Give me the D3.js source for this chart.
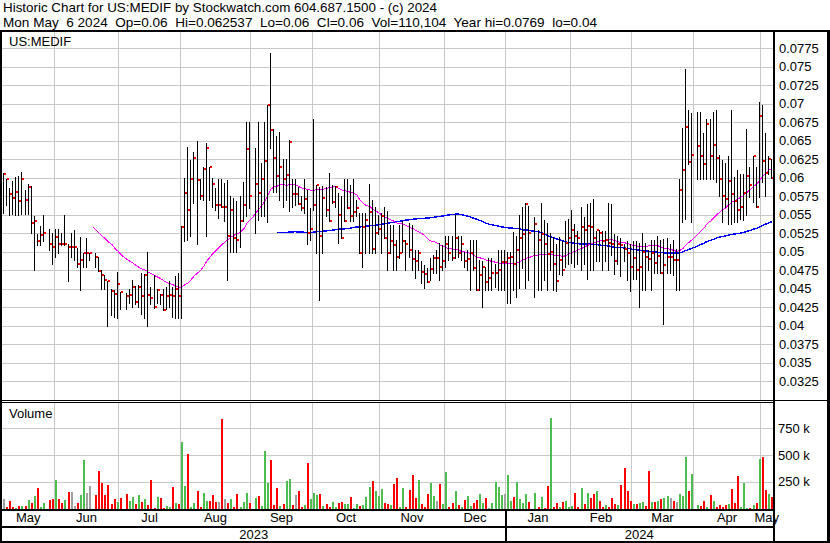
<!DOCTYPE html>
<html><head><meta charset="utf-8">
<script src="https://cdn.jsdelivr.net/npm/d3@7/dist/d3.min.js"></script>
<style>
html,body{margin:0;padding:0;background:#fff;}
svg{display:block;}
</style></head><body>
<svg id="chart" width="830" height="543"></svg>
<script>
// ---------------- data ----------------
const title1 = "Historic Chart for US:MEDIF by Stockwatch.com 604.687.1500 - (c) 2024";
const title2 = "Mon May  6 2024  Op=0.06  Hi=0.062537  Lo=0.06  Cl=0.06  Vol=110,104  Year hi=0.0769  lo=0.04";
const symbol = "US:MEDIF";
const volumeTitle = "Volume";
const firstDay = "2023-05-08";
const lastDay = "2024-05-06";
const holidays = ["2023-05-29","2023-06-19","2023-07-04","2023-09-04","2023-11-23","2023-12-25",
                  "2024-01-01","2024-01-15","2024-02-19","2024-03-29"];
const priceTicks = [0.0325,0.035,0.0375,0.04,0.0425,0.045,0.0475,0.05,0.0525,0.055,0.0575,0.06,
                    0.0625,0.065,0.0675,0.07,0.0725,0.075,0.0775];
const volumeTicks = [250, 500, 750]; // thousands
const maPeriods = [30, 90];

const highs = [
.0606,.0599,.0586,.0596,.0601,.0603,.0608,.0584,.0591,.0589,
.0549,.0524,.0535,.0550,null,.0531,.0525,.0531,.0531,.0525,
.0550,.0511,.0525,.0530,.0505,.0520,.0499,.0519,.0499,null,
.0498,.0493,.0475,.0468,.0460,.0450,.0448,.0473,.0446,null,
.0444,.0450,.0462,.0454,.0455,.0471,.0470,.0500,.0452,.0469,
.0450,.0443,.0450,.0453,.0461,.0453,.0467,.0471,.0535,.0600,
.0641,.0624,.0635,.0650,.0598,.0615,.0647,.0615,.0600,.0586,
.0598,.0598,.0593,.0597,.0575,.0573,.0568,.0575,.0595,.0675,
.0675,null,.0640,.0675,.0620,.0675,.0699,.0769,.0666,.0656,
.0662,.0625,.0626,.0651,.0599,.0599,.0588,.0576,.0599,.0584,
.0559,.0680,.0590,.0588,.0589,.0588,.0606,.0590,.0589,.0580,
.0575,.0599,.0599,.0590,.0599,.0570,.0552,.0552,.0552,.0592,
.0570,.0561,.0550,.0552,.0561,.0555,.0536,.0536,.0516,.0536,
.0541,.0516,.0539,.0536,.0502,.0502,.0487,.0482,.0478,.0491,
.0496,.0502,.0512,.0509,.0521,.0521,.0521,.0550,.0521,.0521,
.0500,.0502,.0516,.0516,.0516,.0489,.0487,.0480,.0491,.0491,
.0484,.0502,.0503,.0503,.0500,.0500,.0527,.0521,.0550,.0561,
.0566,.0562,null,.0547,.0530,.0566,.0543,.0539,.0525,.0520,
.0511,.0520,.0515,.0542,.0545,.0556,.0537,.0528,.0560,.0547,
.0565,.0566,.0572,.0528,.0530,.0528,.0528,.0566,.0565,.0524,
.0522,.0518,.0511,.0515,.0511,.0515,.0515,.0512,.0526,.0512,
.0502,.0516,.0516,.0521,.0516,.0517,.0518,.0511,.0516,.0504,
.0599,.0667,.0747,.0691,.0687,null,.0689,.0689,.0660,.0680,
.0680,.0689,.0691,.0631,.0624,.0620,.0630,.0691,.0601,.0610,
.0605,.0605,.0666,.0614,.0630,.0614,.0703,.0698,.0660,.0630,
.0625];

const lows = [
.0553,.0563,.0550,.0551,.0550,.0550,.0551,.0551,.0551,.0525,
.0476,.0509,.0509,.0515,null,.0502,.0484,.0493,.0499,.0509,
.0509,.0460,.0493,.0489,.0480,.0449,.0480,.0480,.0489,null,
.0480,.0474,.0450,.0450,.0400,.0414,.0412,.0410,.0423,null,
.0423,.0431,.0426,.0430,.0426,.0416,.0410,.0400,.0429,.0424,
.0431,.0430,.0422,.0423,.0426,.0412,.0410,.0410,.0410,.0514,
.0516,.0521,.0566,.0510,.0571,.0570,.0521,.0570,.0561,.0557,
.0546,.0561,.0541,.0462,.0500,.0500,.0500,.0507,.0541,.0548,
.0559,null,.0526,.0543,.0549,.0549,.0540,.0640,.0581,.0581,
.0570,.0561,.0570,.0555,.0561,.0563,.0564,.0557,.0552,.0511,
.0516,.0557,.0499,.0435,.0499,.0548,.0542,.0566,.0561,.0512,
.0519,.0541,.0559,.0541,.0541,.0548,.0498,.0480,.0499,.0499,
.0499,.0499,.0524,.0499,.0519,.0475,.0499,.0475,.0475,.0491,
.0500,.0475,.0493,.0475,.0464,.0475,.0458,.0451,.0459,.0462,
.0471,.0471,.0462,.0475,.0480,.0489,.0489,.0491,.0493,.0489,
.0480,.0475,.0449,.0475,.0449,.0449,.0425,.0449,.0449,.0449,
.0453,.0449,.0449,.0449,.0431,.0431,.0448,.0439,.0451,.0478,
.0451,.0462,null,.0439,.0448,.0448,.0462,.0448,.0475,.0448,
.0447,.0470,.0469,.0480,.0483,.0485,.0479,.0484,.0475,.0484,
.0463,.0475,.0475,.0488,.0488,.0475,.0488,.0475,.0495,.0470,
.0484,.0467,.0488,.0462,.0447,.0463,.0463,.0425,.0449,.0449,
.0476,.0449,.0471,.0471,.0471,.0402,.0471,.0471,.0469,.0449,
.0449,.0540,.0545,.0619,.0540,null,.0599,.0599,.0599,.0599,
.0599,.0599,.0594,.0576,.0540,.0560,.0537,.0537,.0540,.0540,
.0545,.0543,.0550,.0574,.0567,.0561,.0574,.0594,.0575,.0605,
.0600];

const closes = [
.0605,.0599,.0578,.0573,.0581,.0569,.0599,.0570,.0588,.0539,
.0542,.0515,.0523,.0526,null,.0511,.0507,.0520,.0511,.0510,
.0511,.0507,.0507,.0507,.0484,.0489,.0499,.0499,.0499,null,
.0493,.0474,.0468,.0462,.0460,.0447,.0443,.0457,.0446,null,
.0440,.0441,.0453,.0432,.0453,.0440,.0469,.0442,.0438,.0426,
.0449,.0442,.0422,.0440,.0442,.0440,.0450,.0440,.0534,.0580,
.0557,.0598,.0627,.0597,.0575,.0612,.0640,.0615,.0592,.0563,
.0563,.0561,.0561,.0522,.0557,.0519,.0516,.0541,.0563,.0639,
.0576,null,.0592,.0580,.0599,.0623,.0699,.0664,.0627,.0603,
.0615,.0599,.0604,.0649,.0578,.0578,.0564,.0559,.0572,.0525,
.0531,.0563,.0590,.0522,.0573,.0557,.0542,.0567,.0588,.0550,
.0519,.0541,.0559,.0549,.0554,.0559,.0499,.0533,.0543,.0554,
.0504,.0525,.0531,.0549,.0519,.0499,.0515,.0509,.0493,.0499,
.0515,.0511,.0502,.0490,.0488,.0499,.0473,.0470,.0459,.0477,
.0492,.0492,.0480,.0488,.0511,.0499,.0492,.0519,.0499,.0510,
.0488,.0490,.0499,.0478,.0449,.0469,.0479,.0459,.0465,.0471,
.0472,.0475,.0486,.0486,.0492,.0493,.0483,.0502,.0518,.0524,
.0565,.0526,null,.0537,.0516,.0524,.0511,.0497,.0500,.0484,
.0460,.0489,.0476,.0512,.0518,.0529,.0522,.0518,.0533,.0530,
.0535,.0533,.0519,.0529,.0526,.0514,.0516,.0512,.0511,.0488,
.0511,.0509,.0504,.0499,.0480,.0491,.0475,.0480,.0500,.0493,
.0490,.0499,.0485,.0494,.0472,.0482,.0493,.0493,.0489,.0489,
.0584,.0610,.0669,.0622,.0631,null,.0643,.0629,.0619,.0673,
.0629,.0644,.0627,.0599,.0576,.0572,.0596,.0578,.0569,.0556,
.0560,.0580,.0602,.0590,.0630,.0561,.0684,.0623,.0607,.0626,
.0600];

const volumesK = [
85,13,66,13,5,19,19,19,76,51,
114,190,13,54,0,76,85,266,85,51,
76,152,152,19,51,123,456,142,209,0,
123,351,237,126,218,41,85,60,95,0,
133,66,104,41,123,60,85,28,266,5,
104,95,5,19,13,199,47,44,617,209,
513,9,51,161,9,142,73,73,127,57,
57,836,85,47,85,13,133,13,57,142,
51,0,95,114,19,541,237,456,28,190,
19,38,256,275,28,127,161,15,28,427,
85,142,123,133,19,38,9,57,9,51,
60,38,38,104,3,38,19,28,108,199,
256,158,117,180,47,38,28,228,288,9,
190,9,171,313,92,263,41,9,136,234,
114,66,225,38,339,9,54,161,28,13,
82,111,19,47,82,133,54,92,3,54,
244,199,123,130,313,66,104,244,89,51,
136,63,0,139,16,104,6,209,845,9,
51,16,63,66,16,19,142,13,193,41,
142,92,130,165,66,16,35,16,95,44,
32,218,380,161,66,38,44,51,63,19,
351,63,60,66,85,98,114,92,70,57,
133,120,484,161,323,0,28,22,66,16,
123,66,16,35,16,28,38,177,47,304,
9,234,3,3,28,54,465,478,174,133,
110];

// ---------------- drawing ----------------
const FONT = "'Liberation Sans', Arial, Helvetica, sans-serif";
const svg = d3.select("#chart");
const n = closes.length;

const parse = d3.utcParse("%Y-%m-%d");
const fmtDay = d3.utcFormat("%Y-%m-%d");
const days = d3.utcDay.range(parse(firstDay), d3.utcDay.offset(parse(lastDay), 1))
  .filter(d => d.getUTCDay() !== 0 && d.getUTCDay() !== 6 && !holidays.includes(fmtDay(d)));

const PL = 2, PR = 773, PT = 32, PB = 400, VT = 402, VB = 509;
const x = d3.scalePoint().domain(d3.range(n)).range([3, 771]);
const y = d3.scaleLinear().domain([0.03, 0.0775]).range([399.8, 48.3]);
const yv = d3.scaleLinear().domain([0, 750]).range([508.3, 428.3]);

svg.append("rect").attr("width", 830).attr("height", 543).attr("fill", "#fff");

// month starts (index of first trading day of each month)
const monthStarts = [];
for (let i = 1; i < Math.min(n, days.length); i++) {
  if (days[i].getUTCMonth() !== days[i - 1].getUTCMonth()) monthStarts.push(i);
}
const gx = i => Math.round(x(i) - 1.5) + 0.5;

// grid
const grid = svg.append("g").attr("shape-rendering", "crispEdges").attr("stroke", "#c8c8c8").attr("stroke-width", 1);
grid.selectAll("line.hp").data(priceTicks).join("line")
  .attr("x1", PL).attr("x2", PR)
  .attr("y1", d => Math.round(y(d)) + 0.5).attr("y2", d => Math.round(y(d)) + 0.5);
grid.selectAll("line.hv").data(volumeTicks).join("line")
  .attr("x1", PL).attr("x2", PR)
  .attr("y1", d => Math.round(yv(d)) + 0.5).attr("y2", d => Math.round(yv(d)) + 0.5);
monthStarts.forEach(i => {
  grid.append("line").attr("x1", gx(i)).attr("x2", gx(i)).attr("y1", PT).attr("y2", PB);
  grid.append("line").attr("x1", gx(i)).attr("x2", gx(i)).attr("y1", VT).attr("y2", VB);
});

// moving averages
function sma(period) {
  let last = null;
  const filled = closes.map(c => (c != null ? (last = c) : last));
  const out = [];
  for (let i = period - 1; i < n; i++) out.push({ i, v: d3.mean(filled.slice(i - period + 1, i + 1)) });
  return out;
}
const line = d3.line().x(d => Math.round(x(d.i)) + 1).y(d => y(d.v));
svg.append("path").datum(sma(maPeriods[1])).attr("d", line)
  .attr("fill", "none").attr("stroke", "#0000ff").attr("stroke-width", 1.4).attr("shape-rendering", "crispEdges");
svg.append("path").datum(sma(maPeriods[0])).attr("d", line)
  .attr("fill", "none").attr("stroke", "#ff00ff").attr("stroke-width", 1).attr("shape-rendering", "crispEdges");

// price bars
const bars = svg.append("g").attr("shape-rendering", "crispEdges");
d3.range(n).forEach(i => {
  if (highs[i] == null) return;
  const bx = Math.round(x(i));
  const yh = Math.round(y(highs[i])), yl = Math.round(y(lows[i]));
  bars.append("rect").attr("x", bx).attr("y", yh).attr("width", 1).attr("height", Math.max(1, yl - yh + 1)).attr("fill", "#000");
});
d3.range(n).forEach(i => {
  if (closes[i] == null) return;
  const bx = Math.round(x(i));
  bars.append("rect").attr("x", bx + 1).attr("y", Math.round(y(closes[i])) - 1).attr("width", 2).attr("height", 2).attr("fill", "#ff0000");
});

// volume bars
const vbars = svg.append("g").attr("shape-rendering", "crispEdges");
let prev = null;
d3.range(n).forEach(i => {
  const c = closes[i];
  if (c == null) return;
  let col = "#a0a0a0";
  if (prev != null) col = c > prev ? "#4dbd4d" : (c < prev ? "#ff0000" : "#a0a0a0");
  prev = c;
  const top = Math.round(yv(volumesK[i]));
  vbars.append("rect").attr("x", Math.round(x(i))).attr("y", top).attr("width", 2)
    .attr("height", Math.max(1, VB - top)).attr("fill", col);
});

// frame
const frame = svg.append("g").attr("fill", "#000").attr("shape-rendering", "crispEdges");
frame.append("rect").attr("x", 0).attr("y", 30).attr("width", 830).attr("height", 2);
frame.append("rect").attr("x", 0).attr("y", 30).attr("width", 2).attr("height", 513);
frame.append("rect").attr("x", 827).attr("y", 30).attr("width", 3).attr("height", 513);
frame.append("rect").attr("x", 0).attr("y", 541).attr("width", 830).attr("height", 2);
frame.append("rect").attr("x", 773).attr("y", 30).attr("width", 2).attr("height", 513);
frame.append("rect").attr("x", 0).attr("y", 400).attr("width", 830).attr("height", 1);
frame.append("rect").attr("x", 0).attr("y", 402).attr("width", 775).attr("height", 1);
frame.append("rect").attr("x", 0).attr("y", 509).attr("width", 775).attr("height", 2);
frame.append("rect").attr("x", 0).attr("y", 526).attr("width", 775).attr("height", 2);
const janIdx = monthStarts.find(i => days[i].getUTCMonth() === 0);
frame.append("rect").attr("x", gx(janIdx) - 1).attr("y", 509).attr("width", 2).attr("height", 33);

// axes (labels)
const yAxis = d3.axisRight(y).tickValues(priceTicks).tickSize(0).tickPadding(6)
  .tickFormat(d => String(+d.toFixed(4)));
svg.append("g").attr("transform", `translate(${PR},0)`).call(yAxis)
  .call(g => g.select(".domain").remove())
  .selectAll("text").attr("font-size", 13).attr("font-family", FONT).attr("fill", "#000");
const vAxis = d3.axisRight(yv).tickValues(volumeTicks).tickSize(0).tickPadding(5)
  .tickFormat(d => d + " k");
svg.append("g").attr("transform", `translate(${PR},0)`).call(vAxis)
  .call(g => g.select(".domain").remove())
  .selectAll("text").attr("font-size", 13).attr("font-family", FONT).attr("fill", "#000");

// month labels
const fmtMon = d3.utcFormat("%b");
const bounds = [PL].concat(monthStarts.map(i => gx(i))).concat([PR]);
const monthFirst = [0].concat(monthStarts);
monthFirst.forEach((idx, k) => {
  svg.append("text").attr("x", (bounds[k] + bounds[k + 1]) / 2).attr("y", 522)
    .attr("text-anchor", "middle").attr("font-size", 13).attr("font-family", FONT)
    .text(fmtMon(days[idx]));
});
// year labels
const fmtYear = d3.utcFormat("%Y");
const yearBounds = [[PL, gx(janIdx), 0], [gx(janIdx), PR, janIdx]];
yearBounds.forEach(([a, b, idx]) => {
  svg.append("text").attr("x", (a + b) / 2).attr("y", 539).attr("text-anchor", "middle")
    .attr("font-size", 13).attr("font-family", FONT).text(fmtYear(days[idx]));
});

// panel labels
svg.append("text").attr("x", 9).attr("y", 46).attr("font-size", 13).attr("font-family", FONT).text(symbol);
svg.append("text").attr("x", 9).attr("y", 418).attr("font-size", 13).attr("font-family", FONT).text(volumeTitle);

// titles
svg.append("text").attr("x", 3).attr("y", 12).attr("font-size", 13).attr("font-family", FONT)
  .attr("textLength", 434).attr("lengthAdjust", "spacingAndGlyphs").text(title1);
svg.append("text").attr("x", 3).attr("y", 27).attr("font-size", 13).attr("font-family", FONT)
  .style("white-space", "pre").attr("textLength", 594).attr("lengthAdjust", "spacingAndGlyphs").text(title2);
</script>
</body></html>
